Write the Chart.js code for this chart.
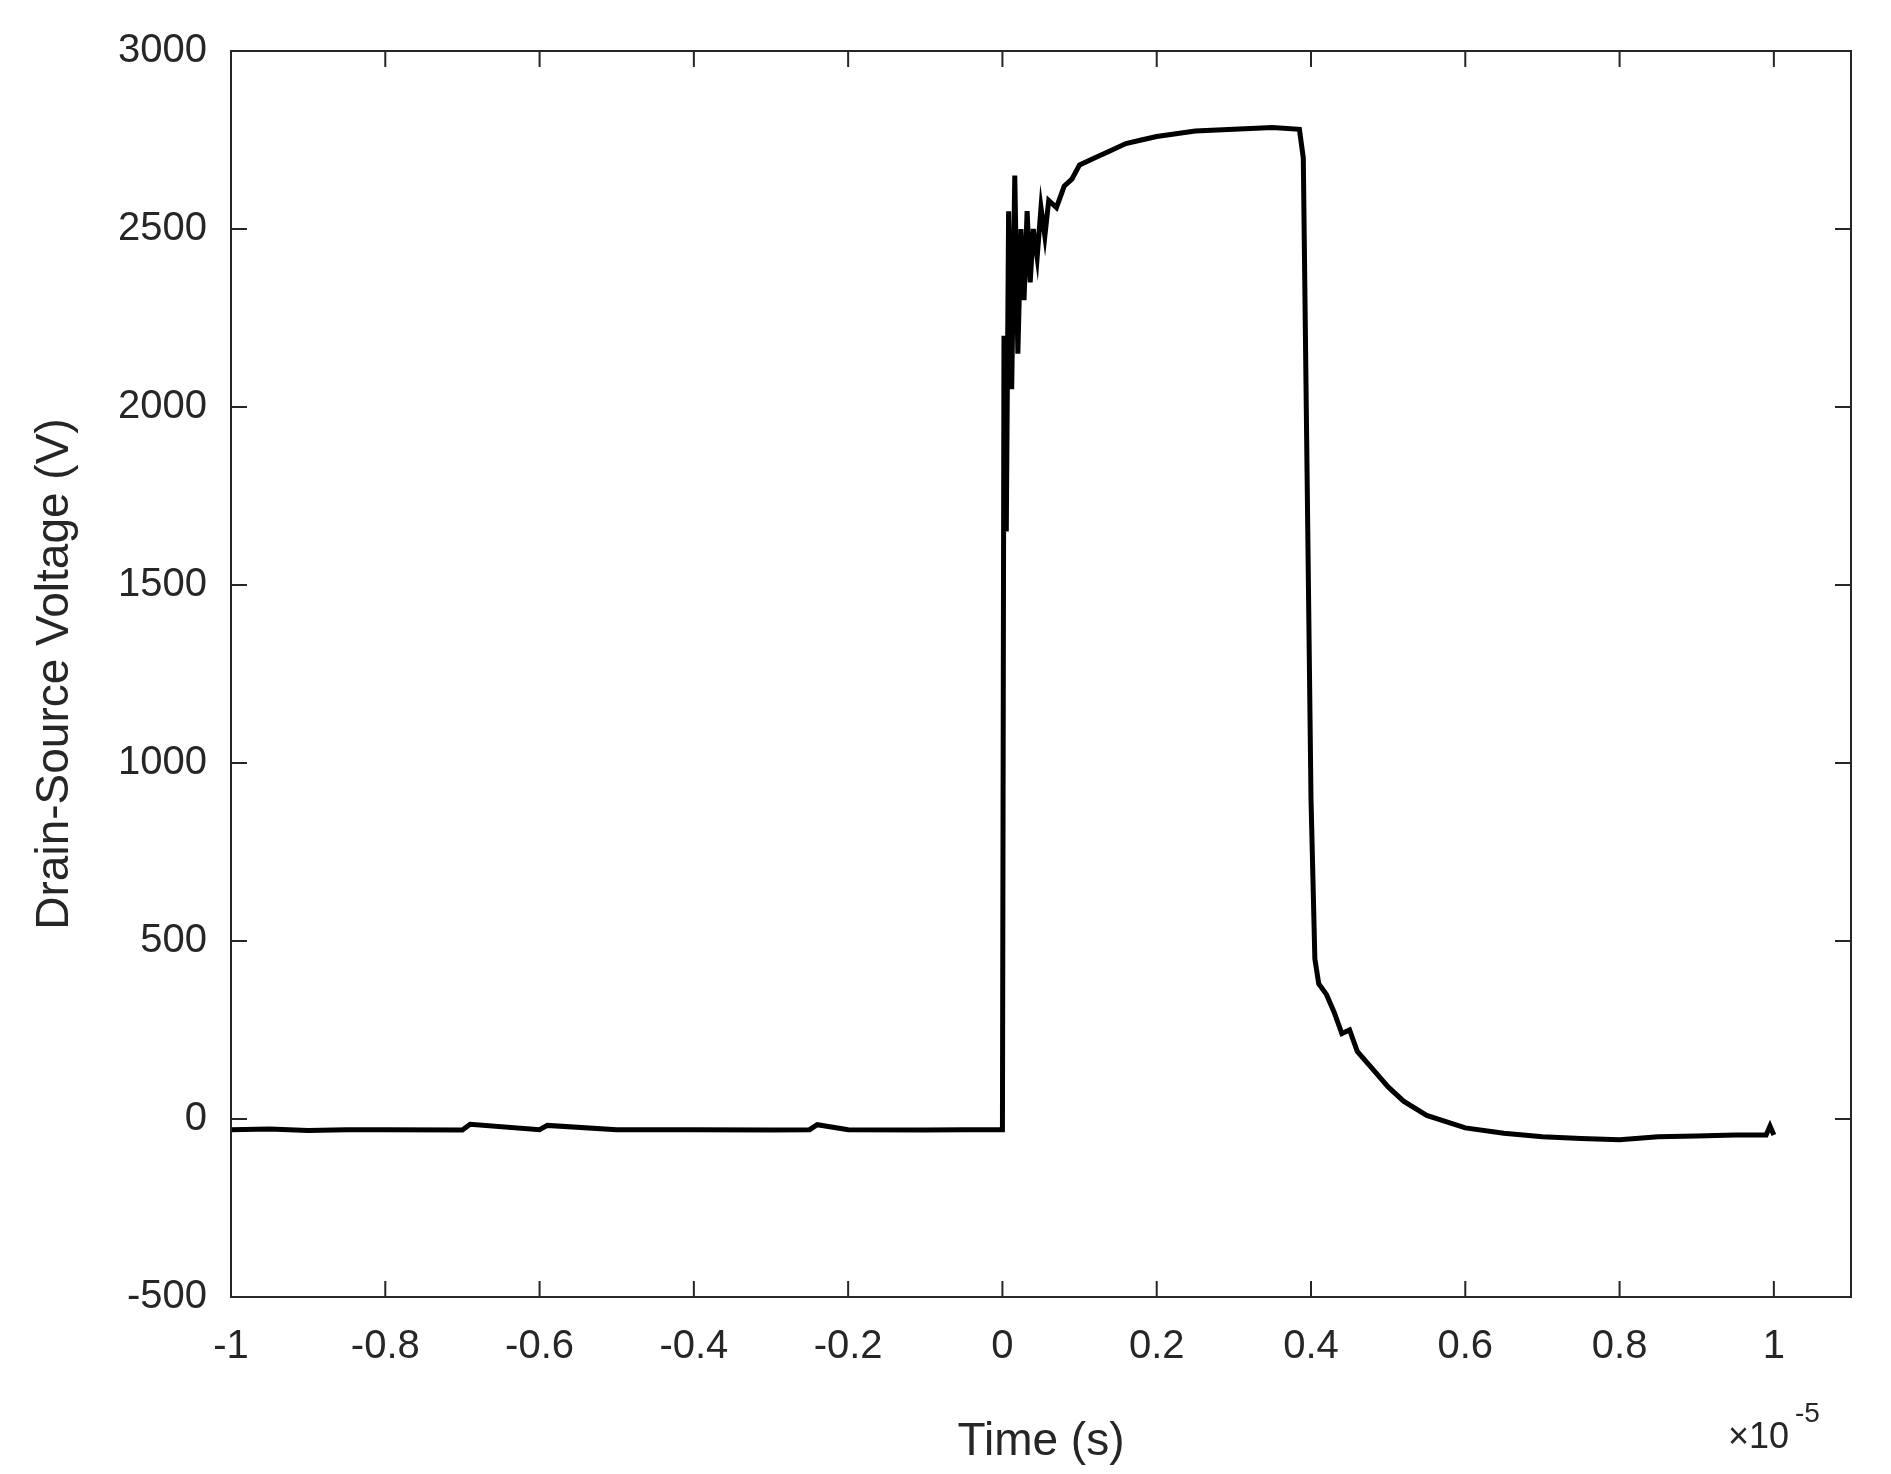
<!DOCTYPE html>
<html><head><meta charset="utf-8">
<script src="https://cdn.jsdelivr.net/npm/chart.js@4"></script>
<style>html,body{margin:0;padding:0;background:#fff}#c{display:block}</style>
</head><body>
<canvas id="c" width="1891" height="1474"></canvas>
<script>
const timeVals = [-1,-0.95,-0.9,-0.85,-0.8,-0.7,-0.69,-0.6,-0.59,-0.5,-0.4,-0.3,-0.25,-0.24,-0.2,-0.1,-0.05,0,
0.002,0.005,0.008,0.012,0.016,0.02,0.024,0.028,0.032,0.036,0.04,0.045,0.05,0.055,0.06,0.07,0.08,0.09,0.1,0.12,0.14,0.16,0.18,0.2,0.25,0.3,0.35,0.385,
0.39,0.395,0.4,0.405,0.41,0.42,0.43,0.44,0.45,0.46,0.48,0.5,0.52,0.55,0.6,0.65,0.7,0.75,0.8,0.85,0.9,0.95,0.99,0.995,1.0];
const voltageVals = [-30,-28,-32,-30,-30,-31,-15,-30,-18,-30,-30,-31,-30,-16,-30,-31,-30,-30,
2200,1650,2550,2050,2650,2150,2500,2300,2550,2350,2500,2420,2560,2480,2580,2560,2620,2640,2680,2700,2720,2740,2750,2760,2775,2780,2785,2780,
2700,1800,900,450,380,350,300,240,250,190,140,90,50,10,-25,-40,-50,-55,-58,-50,-48,-45,-45,-20,-45];
const xTicks = [-1,-0.8,-0.6,-0.4,-0.2,0,0.2,0.4,0.6,0.8,1];
const yTicks = [-500,0,500,1000,1500,2000,2500,3000];
const txt = '#262626', font = 'Liberation Sans, Arial, sans-serif';

const frame = {
  id:'frame',
  afterDraw(ch){
    const {ctx, chartArea:a, scales:{x,y}} = ch;
    ctx.save(); ctx.strokeStyle='#262626'; ctx.lineWidth=2;
    ctx.strokeRect(a.left,a.top,a.right-a.left,a.bottom-a.top);
    ctx.beginPath();
    xTicks.forEach(v=>{const p=x.getPixelForValue(v);ctx.moveTo(p,a.bottom);ctx.lineTo(p,a.bottom-16);ctx.moveTo(p,a.top);ctx.lineTo(p,a.top+16);});
    yTicks.forEach(v=>{const p=y.getPixelForValue(v);ctx.moveTo(a.left,p);ctx.lineTo(a.left+16,p);ctx.moveTo(a.right,p);ctx.lineTo(a.right-16,p);});
    ctx.stroke();
    ctx.fillStyle=txt; ctx.font='36px '+font; ctx.textBaseline='alphabetic';
    ctx.fillText('×10',1728,1448);
    ctx.font='28px '+font; ctx.fillText('-5',1795,1422);
    ctx.restore();
  }
};

new Chart(document.getElementById('c'),{
  type:'line',
  data:{datasets:[{data:timeVals.map((t,i)=>({x:t,y:voltageVals[i]})),borderColor:'#000',borderWidth:5,pointRadius:0,tension:0}]},
  options:{
    responsive:false, animation:false, events:[],
    layout:{padding:{top:51,right:40,left:24,bottom:0}},
    plugins:{legend:{display:false},tooltip:{enabled:false}},
    scales:{
      x:{type:'linear',min:-1,max:1.1,
        afterBuildTicks(s){s.ticks=xTicks.map(v=>({value:v}));},
        afterFit(s){s.height=177;},
        grid:{display:false,drawTicks:false},border:{display:false},
        ticks:{color:txt,font:{size:40,family:font},padding:26,maxRotation:0,callback:v=>String(v)},
        title:{display:true,text:'Time (s)',color:txt,font:{size:46,family:font},padding:{top:0}}},
      y:{min:-500,max:3000,
        afterBuildTicks(s){s.ticks=yTicks.map(v=>({value:v}));},
        afterFit(s){s.width=207;},
        grid:{display:false,drawTicks:false},border:{display:false},
        ticks:{color:txt,font:{size:40,family:font},padding:24,callback:v=>String(v)},
        title:{display:true,text:'Drain-Source Voltage (V)',color:txt,font:{size:46,family:font},padding:{bottom:0}}}
    }
  },
  plugins:[frame]
});
</script></body></html>
